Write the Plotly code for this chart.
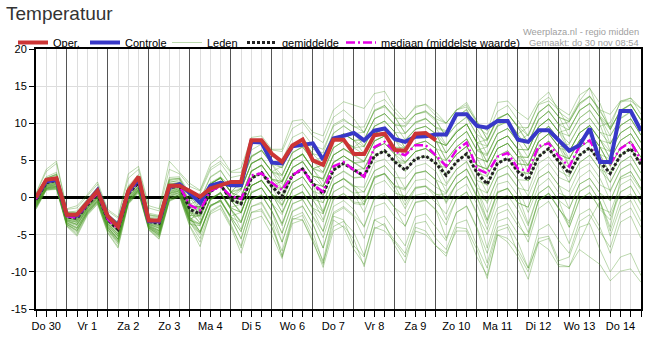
import plotly.graph_objects as go
import pandas as pd

# ---------------- data ----------------
dag_labels = ["Do 30", "Vr 1", "Za 2", "Zo 3", "Ma 4", "Di 5", "Wo 6", "Do 7",
              "Vr 8", "Za 9", "Zo 10", "Ma 11", "Di 12", "Wo 13", "Do 14"]
y_ticks = [-15, -10, -5, 0, 5, 10, 15, 20]
y_ticklabels = ["-15", "-10", "-5", "0", "5", "10", "15", "20"]

oper = [0.0, 2.4, 2.6, -2.3, -2.3, -0.8, 0.9, -2.5, -3.9, 0.9, 2.8, -3.1, -3.1, 1.6, 1.6, 0.9,
        0.1, 1.2, 1.6, 2.1, 2.1, 7.7, 7.7, 5.9, 4.8, 7.0, 7.8, 5.0, 4.4, 7.8, 7.8, 5.85,
        5.85, 8.4, 8.6, 6.4, 6.3, 8.6, 8.7, 7.7]

controle = [0.0, 2.2, 2.4, -2.3, -2.4, -0.7, 1.0, -2.5, -3.8, 0.8, 2.5, -3.2, -3.2, 1.4, 1.8, 0.6,
            -0.7, 1.6, 2.0, 1.65, 1.65, 7.5, 7.4, 4.7, 4.6, 6.9, 7.05, 7.3, 5.1, 7.95, 8.3, 8.7,
            7.7, 9.0, 9.3, 7.85, 7.5, 8.2, 8.25, 8.5, 8.5, 11.2, 11.2, 9.65, 9.4, 10.3, 10.3, 7.8,
            7.5, 9.05, 9.05, 7.6, 6.3, 7.05, 9.3, 4.8, 4.8, 11.65, 11.65, 9.0]

gemiddelde = [-0.3, 2.0, 2.3, -2.6, -2.8, -1.0, 0.5, -3.0, -4.3, 0.5, 2.0, -3.2, -3.5, 1.3, 1.6, -1.6,
              -2.2, 0.8, 1.7, -0.3, -0.85, 2.6, 3.35, 1.5, 0.2, 3.0, 3.85, 1.9, 0.5, 3.7, 4.6, 3.7,
              2.9, 5.6, 6.3, 4.8, 3.7, 5.2, 5.6, 4.6, 3.0, 4.8, 5.9, 3.35, 1.8, 4.6, 5.3, 3.5,
              2.4, 5.5, 6.6, 4.8, 3.25, 5.7, 6.7, 4.8, 3.25, 5.7, 6.6, 4.4]

mediaan = [-0.2, 2.1, 2.4, -2.5, -2.7, -0.9, 0.6, -2.9, -4.2, 0.6, 2.2, -3.1, -3.3, 1.4, 1.5, -1.0,
           -1.7, 0.9, 1.5, 0.2, -0.2, 3.0, 3.25, 2.0, 1.0, 3.0, 3.9, 1.7, 0.8, 4.2, 4.8, 3.7,
           2.8, 6.8, 7.5, 6.2, 5.7, 7.05, 7.05, 5.7, 4.25, 6.4, 7.4, 3.9, 3.25, 5.5, 6.0, 3.9,
           3.6, 6.9, 7.3, 5.5, 4.15, 6.9, 7.7, 5.1, 4.6, 6.6, 7.5, 5.0]

leden = [
    [0.3, 2.8, 3.4, -1.9, -2.0, -0.4, 1.2, -2.2, -3.4, 1.4, 2.9, -2.3, -2.6, 2.4, 2.6, 0.2,
     -0.8, 2.0, 2.8, 1.5, 1.8, 5.5, 6.3, 4.8, 4.0, 7.0, 8.0, 6.5, 6.0, 9.8, 10.6, 9.5, 9.5, 12.6, 13.2, 11.5,
     10.0, 11.2, 11.5, 10.3, 8.2, 9.8, 10.8, 8.5, 7.6, 10.5, 11.3, 9.6, 8.3, 11.4, 12.6, 10.8, 10.2, 12.5, 13.6, 11.6,
     9.4, 11.6, 12.5, 10.4],
    [-0.1, 2.5, 3.0, -2.2, -2.4, -0.6, 1.0, -2.5, -3.6, 1.1, 2.7, -2.6, -2.8, 2.0, 2.4, -0.5,
     0.6, 3.7, 4.6, 2.7, 3.0, 6.4, 7.2, 5.6, 5.0, 8.1, 8.8, 7.0, 6.5, 9.6, 10.4, 9.6, 8.8, 11.7, 12.2, 10.8,
     8.7, 10.0, 10.6, 9.4, 8.8, 10.9, 11.8, 9.5, 8.5, 11.6, 12.4, 10.4, 8.3, 11.4, 12.5, 10.9, 8.2, 10.7, 11.8, 9.6,
     10.1, 12.8, 13.4, 11.2],
    [0.5, 3.5, 4.6, -1.6, -1.4, 0.2, 1.8, -1.8, -2.8, 2.6, 3.8, -1.4, -1.8, 3.8, 3.2, 1.5,
     0.9, 4.0, 4.9, 3.4, 3.4, 7.1, 7.8, 6.4, 6.2, 9.3, 10.1, 8.3, 7.4, 10.8, 11.8, 10.6, 8.7, 11.8, 12.4, 10.9,
     8.6, 10.1, 10.7, 9.4, 7.1, 9.0, 9.9, 7.4, 6.9, 9.8, 10.4, 8.6, 9.5, 12.6, 13.5, 12.0, 11.1, 13.8, 14.7, 12.7,
     9.1, 11.8, 12.5, 10.5],
    [-0.5, 1.8, 2.1, -2.8, -3.1, -1.2, 0.3, -3.3, -4.6, 0.2, 1.8, -3.5, -3.9, 1.0, 1.4, -2.0,
     -1.4, 1.9, 2.6, 0.8, 2.0, 5.4, 6.4, 4.5, 3.0, 6.1, 6.8, 5.0, 5.4, 8.6, 9.7, 8.6, 8.8, 11.6, 12.4, 10.7,
     10.6, 12.1, 12.6, 11.5, 10.0, 11.8, 12.8, 10.3, 7.8, 10.7, 11.3, 9.4, 7.3, 10.4, 11.7, 9.8, 9.1, 11.8, 12.6, 10.8,
     8.3, 10.6, 11.5, 9.4],
    [-0.8, 1.5, 1.8, -3.2, -3.6, -1.5, 0.0, -3.7, -5.2, -0.2, 1.4, -3.9, -4.5, 0.6, 1.0, -2.6,
     -0.4, 2.7, 3.6, 1.6, 2.1, 5.6, 6.4, 4.5, 4.0, 7.1, 7.8, 5.9, 4.4, 7.7, 8.5, 7.7, 7.8, 10.6, 11.3, 9.8,
     9.5, 11.2, 11.7, 10.5, 8.1, 9.8, 10.9, 8.4, 5.8, 8.6, 9.3, 7.5, 8.5, 11.5, 12.5, 10.8, 10.3, 12.7, 13.6, 11.8,
     11.2, 13.0, 13.4, 12.0],
    [0.0, 2.2, 2.6, -2.4, -2.5, -0.8, 0.7, -2.8, -4.0, 0.8, 2.3, -2.9, -3.2, 1.7, 2.0, -1.0,
     -1.3, 1.8, 2.7, 0.8, 1.2, 4.5, 5.4, 3.5, 3.1, 6.0, 6.8, 4.9, 4.4, 7.7, 8.6, 7.7, 6.8, 9.6, 10.3, 8.8,
     8.6, 10.2, 10.6, 9.5, 9.0, 10.8, 11.9, 9.3, 6.9, 9.6, 10.2, 8.5, 6.4, 9.5, 10.6, 8.8, 7.3, 9.7, 10.7, 8.8,
     8.3, 10.7, 11.6, 9.4],
    [-0.4, 1.9, 2.2, -2.7, -3.0, -1.1, 0.4, -3.1, -4.4, 0.4, 1.9, -3.3, -3.7, 1.2, 1.5, -1.8,
     -2.4, 0.9, 1.9, -0.1, 1.0, 4.6, 5.3, 3.4, 2.9, 6.0, 6.9, 4.9, 3.4, 6.7, 7.6, 6.8, 7.8, 10.6, 11.3, 9.8,
     7.8, 9.2, 9.6, 8.5, 6.0, 7.8, 8.9, 6.3, 5.6, 8.6, 9.3, 7.6, 7.3, 10.5, 11.6, 9.8, 6.2, 8.7, 9.7, 7.8,
     5.2, 7.7, 8.6, 6.4],
    [-1.2, 1.2, 1.4, -3.6, -4.4, -2.0, -0.5, -4.2, -5.8, -0.6, 1.0, -4.1, -5.0, -0.2, 0.5, -3.2,
     -1.4, 1.8, 2.7, 0.7, 1.1, 4.6, 5.3, 3.5, 2.1, 5.0, 5.9, 3.9, 3.3, 6.7, 7.6, 6.7, 5.8, 8.6, 9.3, 7.8,
     7.6, 9.2, 9.6, 8.6, 7.0, 8.8, 9.9, 7.3, 4.7, 7.6, 8.3, 6.5, 4.3, 7.5, 8.6, 6.8, 7.2, 9.7, 10.7, 8.8,
     7.2, 9.7, 10.6, 8.4],
    [0.2, 2.4, 2.8, -2.1, -2.2, -0.5, 1.0, -2.6, -3.8, 1.0, 2.5, -2.7, -3.0, 2.2, 2.1, -0.6,
     -2.3, 0.8, 1.7, -0.3, 0.1, 3.6, 4.3, 2.5, 2.1, 5.0, 5.9, 3.9, 3.5, 6.7, 7.6, 6.7, 6.9, 9.6, 10.3, 8.8,
     6.7, 8.2, 8.6, 7.6, 5.0, 6.8, 7.9, 5.4, 4.8, 7.6, 8.3, 6.5, 6.4, 9.5, 10.6, 8.8, 8.3, 10.7, 11.7, 9.8,
     6.3, 8.7, 9.6, 7.4],
    [-0.6, 1.6, 1.9, -3.0, -3.3, -1.4, 0.1, -3.5, -4.9, 0.0, 1.5, -3.6, -4.1, 0.7, 1.1, -2.4,
     -2.6, 0.6, 1.6, -0.5, -0.2, 3.5, 4.4, 2.4, 1.9, 5.1, 5.8, 3.8, 2.2, 5.7, 6.6, 5.7, 5.8, 8.6, 9.3, 7.7,
     6.6, 8.2, 8.6, 7.5, 7.0, 8.8, 9.9, 7.4, 3.7, 6.6, 7.3, 5.5, 5.4, 8.5, 9.6, 7.8, 5.2, 7.7, 8.7, 6.8,
     4.2, 6.7, 7.6, 5.4],
    [-0.2, 2.1, 2.4, -2.5, -2.7, -0.9, 0.6, -2.9, -4.2, 0.6, 2.1, -3.1, -3.4, 1.5, 1.7, -1.3,
     -1.2, 1.8, 2.6, 0.7, 0.1, 3.6, 4.4, 2.5, 1.2, 4.0, 4.8, 2.9, 2.5, 5.7, 6.6, 5.7, 4.9, 7.6, 8.3, 6.8,
     5.7, 7.2, 7.6, 6.6, 6.0, 7.8, 8.9, 6.4, 5.8, 8.6, 9.3, 7.5, 5.4, 8.5, 9.6, 7.8, 6.2, 8.7, 9.7, 7.8,
     5.2, 7.7, 8.6, 6.4],
    [-0.9, 1.4, 1.6, -3.3, -3.8, -1.7, -0.2, -3.9, -5.5, -0.4, 1.2, -3.8, -4.6, 0.3, 0.9, -2.9,
     -2.3, 0.7, 1.8, -0.4, -0.9, 2.7, 3.4, 1.5, 1.3, 4.1, 4.8, 2.9, 2.6, 5.8, 6.5, 5.6, 4.8, 7.7, 8.3, 6.7,
     6.6, 8.3, 8.6, 7.7, 5.1, 6.8, 7.9, 5.3, 2.9, 5.6, 6.3, 4.6, 4.3, 7.5, 8.6, 6.7, 6.2, 8.7, 9.7, 7.7,
     7.3, 9.7, 10.6, 8.4],
    [0.1, 2.3, 2.7, -2.3, -2.4, -0.7, 0.8, -2.7, -3.9, 0.9, 2.4, -2.8, -3.1, 1.8, 1.9, -0.9,
     -2.1, 0.9, 1.7, -0.2, 0.1, 3.5, 4.4, 2.4, 0.3, 3.1, 3.8, 1.9, 1.5, 4.8, 5.6, 4.6, 4.8, 7.6, 8.3, 6.8,
     4.7, 6.2, 6.6, 5.5, 5.0, 6.8, 7.9, 5.4, 4.8, 7.6, 8.3, 6.4, 3.4, 6.5, 7.6, 5.8, 5.2, 7.7, 8.7, 6.8,
     4.2, 6.7, 7.6, 5.4],
    [-0.3, 2.0, 2.3, -2.6, -2.9, -1.0, 0.5, -3.0, -4.3, 0.5, 2.0, -3.2, -3.6, 1.3, 1.6, -1.7,
     -3.4, -0.2, 0.7, -1.3, -0.9, 2.6, 3.3, 1.6, 1.1, 4.0, 4.9, 2.8, 1.4, 4.7, 5.6, 4.7, 3.8, 6.6, 7.3, 5.8,
     5.7, 7.2, 7.6, 6.6, 4.0, 5.8, 6.9, 4.4, 3.8, 6.6, 7.3, 5.5, 5.4, 8.5, 9.6, 7.8, 4.2, 6.7, 7.7, 5.8,
     3.2, 5.7, 6.6, 4.4],
    [-0.7, 1.7, 2.0, -2.9, -3.2, -1.3, 0.2, -3.4, -4.8, 0.1, 1.6, -3.5, -4.0, 0.9, 1.3, -2.2,
     -2.2, 0.8, 1.7, -0.3, -0.9, 2.6, 3.3, 1.5, 0.2, 3.0, 3.9, 1.9, 1.5, 4.7, 5.6, 4.7, 3.9, 6.6, 7.3, 5.8,
     4.7, 6.2, 6.6, 5.6, 3.0, 4.8, 5.9, 3.4, 2.8, 5.6, 6.3, 4.5, 4.4, 7.5, 8.6, 6.8, 5.2, 7.7, 8.7, 6.8,
     6.2, 8.7, 9.6, 7.4],
    [-1.0, 1.3, 1.5, -3.4, -4.0, -1.8, -0.3, -4.0, -5.6, -0.5, 1.1, -4.0, -4.8, 0.1, 0.7, -3.0,
     -3.5, -0.3, 0.6, -1.4, -2.0, 1.6, 2.3, 0.4, 0.0, 2.9, 3.9, 1.8, 0.3, 3.7, 4.5, 3.7, 3.9, 6.6, 7.3, 5.8,
     3.5, 5.2, 5.6, 4.5, 4.0, 5.8, 6.9, 4.3, 1.6, 4.6, 5.3, 3.4, 3.2, 6.5, 7.6, 5.7, 3.0, 5.7, 6.7, 4.7,
     2.0, 4.7, 5.6, 3.3],
    [0.4, 2.6, 3.2, -2.0, -1.8, -0.2, 1.4, -2.3, -3.3, 1.6, 3.1, -2.1, -2.4, 2.7, 2.8, 0.5,
     -1.8, 0.9, 1.6, -0.4, -1.9, 1.6, 2.4, 0.5, -1.0, 2.0, 2.8, 0.9, 0.3, 3.7, 4.6, 3.6, 2.7, 5.6, 6.3, 4.8,
     4.8, 6.2, 6.6, 5.5, 4.0, 5.8, 6.9, 4.3, 3.9, 6.6, 7.3, 5.5, 2.2, 5.5, 6.6, 4.7, 2.0, 4.7, 5.7, 3.8,
     3.1, 5.7, 6.6, 4.4],
    [-0.4, 1.9, 2.2, -2.7, -3.0, -1.2, 0.3, -3.2, -4.5, 0.3, 1.8, -3.4, -3.8, 1.1, 1.4, -2.0,
     -3.4, -0.2, 0.7, -1.4, -2.0, 1.6, 2.3, 0.5, -2.0, 1.0, 1.8, -0.2, -0.7, 2.7, 3.6, 2.7, 2.8, 5.6, 6.3, 4.8,
     3.6, 5.2, 5.6, 4.6, 1.9, 3.8, 4.9, 2.3, 1.7, 4.6, 5.3, 3.5, 3.3, 6.5, 7.6, 5.8, 5.2, 7.7, 8.7, 6.8,
     4.3, 6.7, 7.6, 5.4],
    [-1.4, 1.1, 1.2, -3.8, -4.8, -2.2, -0.7, -4.5, -6.3, -0.8, 0.8, -4.3, -5.3, -0.4, 0.2, -3.6,
     -3.8, -0.3, 0.6, -1.6, -3.3, 0.7, 1.3, -0.8, -2.3, 1.1, 1.8, -0.4, -2.0, 1.8, 2.5, 1.5, 1.4, 4.7, 5.2, 3.6,
     1.2, 3.3, 3.6, 2.4, 1.6, 3.8, 4.8, 2.1, -0.8, 2.7, 3.2, 1.3, 0.9, 4.6, 5.5, 3.6, 2.8, 5.8, 6.6, 4.6,
     0.8, 3.8, 4.5, 2.2],
    [-0.6, 1.7, 2.0, -3.0, -3.4, -1.4, 0.1, -3.5, -5.0, 0.0, 1.6, -3.6, -4.2, 0.8, 1.2, -2.5,
     -4.6, -1.2, -0.5, -2.6, -3.4, 0.6, 1.3, -0.8, -3.5, 0.1, 0.8, -1.4, -2.2, 1.8, 2.5, 1.5, -0.6, 2.8, 3.2, 1.6,
     1.2, 3.3, 3.5, 2.4, -0.6, 1.9, 2.8, 0.1, -3.0, 0.8, 1.2, -0.7, -1.3, 2.6, 3.5, 1.6, 0.8, 3.8, 4.6, 2.6,
     -0.4, 2.8, 3.5, 1.2],
    [-1.1, 1.3, 1.5, -3.5, -4.2, -1.9, -0.4, -4.1, -5.7, -0.5, 1.0, -4.0, -4.9, 0.0, 0.6, -3.1,
     -3.6, 0.0, 0.5, -1.6, -4.3, -0.2, 0.3, -1.8, -4.8, -0.8, -0.3, -2.5, -4.5, -0.1, 0.5, -0.6, -0.8, 2.8, 3.2, 1.6,
     -1.0, 1.4, 1.5, 0.4, 0.5, 2.9, 3.8, 1.2, -2.0, 1.8, 2.2, 0.3, -3.5, 0.6, 1.5, -0.4, -1.5, 1.8, 2.6, 0.6,
     -2.5, 0.8, 1.5, -0.8],
    [-0.8, 1.5, 1.7, -3.1, -3.6, -1.6, -0.1, -3.8, -5.3, -0.3, 1.3, -3.8, -4.5, 0.5, 0.9, -2.8,
     -4.6, -1.0, -0.5, -2.6, -4.6, -0.3, 0.4, -1.8, -4.8, -0.9, -0.2, -2.6, -5.4, -1.2, -0.4, -1.6, -4.0, -0.2, 0.3, -1.4,
     -2.5, 0.3, 0.6, -0.7, -2.2, 0.9, 1.8, -0.9, -4.3, -0.2, 0.3, -1.7, -4.7, -0.4, 0.6, -1.4, -4.0, -0.2, 0.6, -1.4,
     -2.0, 1.7, 2.5, 0.2],
    [-1.3, 1.1, 1.3, -3.7, -4.6, -2.1, -0.6, -4.4, -6.1, -0.7, 0.9, -4.2, -5.2, -0.3, 0.4, -3.4,
     -5.0, -1.2, -0.3, -2.8, -5.6, -1.2, -0.6, -3.0, -6.0, -1.8, -1.1, -3.6, -6.8, -2.2, -1.4, -2.6, -5.5, -1.2, -0.7, -2.6,
     -3.8, -0.7, -0.4, -1.7, -5.5, -2.0, -1.1, -4.0, -7.5, -3.2, -2.7, -4.9, -5.0, -0.4, 0.6, -1.6, -3.2, 0.8, 1.7, -0.6,
     -5.2, -1.2, -0.4, -3.2],
    [-1.6, 1.0, 1.1, -3.9, -5.2, -2.4, -0.9, -4.8, -6.8, -0.9, 0.6, -4.4, -5.6, -0.5, 0.1, -3.9,
     -6.6, -2.0, -1.1, -3.8, -6.5, -2.0, -1.5, -4.0, -7.2, -2.6, -2.0, -4.6, -8.8, -3.9, -3.2, -4.7, -7.8, -3.0, -2.5, -4.6,
     -6.5, -2.6, -2.2, -4.0, -5.8, -2.0, -1.2, -4.2, -8.8, -4.0, -3.6, -6.0, -9.5, -4.4, -3.6, -5.8, -7.5, -3.2, -2.3, -4.6,
     -6.7, -2.2, -1.4, -4.0],
    [-1.0, 1.4, 1.6, -3.4, -4.1, -1.8, -0.3, -4.0, -5.6, -0.5, 1.1, -3.9, -4.8, 0.2, 0.7, -3.0,
     -4.8, -1.0, -0.5, -2.8, -5.5, -1.2, -0.8, -3.2, -8.0, -3.5, -3.0, -5.8, -9.4, -4.5, -3.8, -5.6, -9.3, -4.2, -3.5, -6.5,
     -8.8, -4.0, -4.5, -6.5, -7.9, -4.0, -4.2, -7.0, -10.9, -5.0, -6.0, -8.0, -11.0, -6.0, -5.5, -9.0, -9.3, -7.0, -8.0, -9.0,
     -11.2, -9.9, -9.6, -11.4],
    [-1.5, 1.0, 1.2, -3.8, -5.0, -2.3, -0.8, -4.7, -6.6, -0.8, 0.7, -4.3, -5.5, -0.4, 0.2, -3.8,
     -6.0, -2.2, -1.5, -4.0, -7.5, -3.0, -2.5, -5.0, -8.2, -3.0, -2.4, -5.5, -8.5, -2.5, -3.0, -6.5, -8.0, -3.0, -3.8, -5.8,
     -7.5, -3.5, -3.2, -5.5, -7.0, -3.5, -3.0, -6.5, -9.5, -4.5, -4.0, -7.5, -10.0, -5.5, -5.2, -8.5, -8.0, -4.0, -3.5, -7.0,
     -10.0, -8.0, -7.5, -10.5],
    [-1.2, 1.2, 1.4, -3.6, -4.5, -2.0, -0.5, -4.3, -6.0, -0.6, 0.9, -4.1, -5.1, -0.2, 0.4, -3.3,
     -5.5, -1.8, -1.0, -3.5, -6.8, -2.0, -1.8, -4.0, -7.8, -2.8, -3.0, -6.0, -9.0, -3.0, -4.0, -7.0, -9.0, -4.0, -4.5, -6.0,
     -8.0, -4.5, -5.0, -6.5, -7.5, -4.5, -4.5, -8.0, -10.5, -5.0, -5.5, -7.0, -9.5, -6.0, -7.0, -9.3, -9.3, -6.0, -3.0, -0.5,
     -4.0, 2.5, 3.0, 1.0],
    [0.6, 3.8, 4.9, -1.5, -1.1, 0.4, 2.1, -1.6, -2.6, 3.2, 4.2, -1.1, -1.5, 4.9, 3.4, 1.9,
     1.0, 4.5, 5.6, 3.5, 4.0, 8.1, 8.3, 6.5, 6.5, 10.3, 10.5, 8.8, 8.3, 11.8, 12.9, 12.5, 12.0, 14.0, 14.3, 12.0,
     10.5, 12.3, 12.5, 11.0, 10.0, 11.8, 12.5, 10.0, 9.0, 12.8, 13.0, 11.5, 10.5, 13.0, 14.2, 11.5, 10.5, 13.0, 14.8, 11.0,
     9.5, 13.0, 13.0, 12.0],
    [0.1, 2.3, 2.6, -2.3, -2.3, -0.6, 0.9, -2.7, -3.9, 0.9, 2.4, -2.8, -3.1, 1.9, 2.0, -0.8,
     -3.0, 0.7, 1.6, -0.3, -0.8, 2.6, 3.4, 1.6, 2.2, 5.0, 5.8, 3.9, 4.4, 7.7, 8.6, 7.7, 7.8, 10.6, 11.3, 9.8,
     9.7, 11.2, 11.6, 10.6, 10.0, 11.8, 12.2, 10.3, 7.8, 10.6, 11.3, 9.5, 9.4, 12.5, 13.0, 11.8, 9.3, 11.7, 12.7, 10.8,
     9.2, 11.7, 12.6, 10.4],
    [0.2, 2.6, 3.1, -2.1, -2.1, -0.4, 1.1, -2.4, -3.5, 1.3, 2.8, -2.4, -2.7, 2.3, 2.5, 0.0,
     -2.0, 1.0, 1.9, 0.2, 1.2, 4.6, 5.3, 3.5, 4.2, 7.0, 7.9, 5.9, 5.5, 8.7, 9.6, 8.7, 6.9, 9.6, 10.3, 8.8,
     6.7, 8.2, 8.6, 7.6, 7.0, 8.8, 9.9, 7.4, 7.8, 10.6, 11.3, 9.5, 7.4, 10.5, 11.6, 9.8, 10.2, 12.7, 13.7, 11.8,
     9.2, 11.7, 12.6, 10.4],
    [-0.9, 1.5, 1.7, -3.2, -3.7, -1.6, -0.1, -3.7, -5.2, -0.3, 1.3, -3.7, -4.4, 0.6, 1.0, -2.7,
     -3.6, -0.4, 0.6, -1.5, -3.2, 0.8, 1.3, -0.7, -3.5, 0.1, 0.7, -1.4, -3.3, 0.8, 1.5, 0.5, -2.0, 1.7, 2.3, 0.6,
     0.2, 2.3, 2.5, 1.4, 0.6, 2.9, 3.8, 1.2, -3.1, 0.7, 1.2, -0.7, -1.3, 2.6, 3.5, 1.6, -1.5, 1.8, 2.6, 0.6,
     -0.4, 2.7, 3.5, 1.2],
    [-1.3, 1.2, 1.3, -3.6, -4.4, -2.1, -0.6, -4.3, -5.9, -0.7, 0.9, -4.1, -5.0, -0.2, 0.4, -3.3,
     -4.8, -1.1, -0.3, -2.6, -4.6, -0.3, 0.3, -1.9, -6.0, -1.9, -1.2, -3.5, -6.8, -2.0, -1.2, -2.4, -3.8, 0.0, 0.6, -1.4,
     -3.9, -0.6, -0.3, -1.6, -3.7, -0.1, 0.7, -2.0, -6.8, -2.2, -1.6, -3.8, -5.3, -0.4, 0.5, -1.5, -3.5, 0.8, 1.6, -0.5,
     -4.5, -0.3, 0.5, -2.0],
    [-0.5, 1.8, 2.1, -2.8, -3.1, -1.2, 0.3, -3.2, -4.6, 0.3, 1.8, -3.4, -3.8, 1.1, 1.4, -2.0,
     -2.5, 0.7, 1.6, -0.4, -2.1, 1.6, 2.3, 0.4, -1.2, 2.0, 2.8, 0.8, -1.8, 1.7, 2.6, 1.6, 0.7, 3.6, 4.3, 2.7,
     2.6, 4.2, 4.6, 3.5, 0.8, 2.8, 3.9, 1.3, 0.6, 3.6, 4.3, 2.4, 0.2, 3.5, 4.6, 2.7, 2.1, 4.7, 5.7, 3.7,
     2.1, 4.7, 5.6, 3.3],
    [0.0, 2.2, 2.5, -2.4, -2.6, -0.8, 0.7, -2.8, -4.0, 0.7, 2.2, -3.0, -3.3, 1.6, 1.8, -1.2,
     -1.3, 1.8, 2.6, 0.8, -0.9, 2.6, 3.3, 1.4, -1.0, 2.0, 2.8, 0.9, -0.7, 2.7, 3.5, 2.6, 2.8, 5.6, 6.3, 4.7,
     4.6, 6.2, 6.6, 5.6, 2.9, 4.8, 5.9, 3.3, 0.6, 3.6, 4.3, 2.4, 2.3, 5.5, 6.6, 4.7, 4.2, 6.7, 7.7, 5.8,
     3.2, 5.7, 6.6, 4.4],
    [-1.1, 1.3, 1.5, -3.4, -4.1, -1.9, -0.4, -4.0, -5.6, -0.5, 1.1, -3.9, -4.7, 0.3, 0.7, -3.0,
     -3.8, -0.2, 0.7, -1.6, -3.4, 0.6, 1.3, -0.8, -3.8, 0.1, 0.8, -1.6, -4.6, -0.3, 0.6, -0.8, -1.0, 2.6, 3.3, 1.5,
     1.0, 3.2, 3.6, 2.3, -0.8, 1.8, 2.9, 0.0, -3.5, 0.6, 1.3, -0.8, -3.8, 0.5, 1.6, -0.5, -4.0, -0.3, 0.7, -1.6,
     -3.0, 0.7, 1.6, -1.0],
    [-0.1, 2.3, 2.7, -2.3, -2.4, -0.7, 0.8, -2.7, -3.9, 0.9, 2.4, -2.8, -3.1, 1.8, 2.0, -0.9,
     -0.3, 2.8, 3.7, 1.6, 1.2, 4.6, 5.3, 3.5, 1.2, 4.0, 4.9, 2.9, 2.5, 5.7, 6.6, 5.7, 5.9, 8.6, 9.3, 7.8,
     5.6, 7.2, 7.6, 6.6, 4.0, 5.8, 6.9, 4.4, 3.8, 6.6, 7.3, 5.5, 4.4, 7.5, 8.6, 6.8, 4.2, 6.7, 7.7, 5.8,
     5.2, 7.7, 8.6, 6.4],
    [-0.8, 1.6, 1.8, -3.1, -3.6, -1.5, 0.0, -3.7, -5.1, -0.2, 1.4, -3.7, -4.4, 0.5, 0.9, -2.7,
     -4.6, -1.2, -0.3, -2.5, -2.0, 1.6, 2.3, 0.5, -2.0, 1.0, 1.8, -0.2, -3.0, 0.7, 1.6, 0.6, 0.8, 3.6, 4.3, 2.7,
     -0.5, 1.3, 1.6, 0.5, -0.2, 1.8, 2.9, 0.3, -0.5, 2.6, 3.3, 1.4, -2.0, 1.5, 2.6, 0.6, 0.0, 2.7, 3.7, 1.7,
     1.0, 3.7, 4.6, 2.3],
    [0.3, 2.6, 3.1, -2.0, -2.0, -0.3, 1.2, -2.3, -3.4, 1.4, 2.9, -2.3, -2.5, 2.5, 2.6, 0.1,
     -1.2, 1.8, 2.7, 0.7, 2.1, 5.6, 6.3, 4.5, 2.2, 5.0, 5.9, 3.9, 4.4, 7.7, 8.6, 7.7, 5.9, 8.6, 9.3, 7.8,
     7.7, 9.2, 9.6, 8.6, 6.0, 7.8, 8.9, 6.4, 6.8, 9.6, 10.3, 8.5, 6.4, 9.5, 10.6, 8.8, 9.2, 11.7, 12.7, 10.8,
     7.2, 9.7, 10.6, 8.4],
    [-0.6, 1.7, 1.9, -3.0, -3.3, -1.4, 0.1, -3.5, -4.9, 0.0, 1.5, -3.6, -4.1, 0.8, 1.2, -2.4,
     -2.4, 0.8, 1.7, -0.3, -2.1, 1.6, 2.3, 0.4, -0.4, 3.0, 3.8, 1.8, -2.2, 1.7, 2.6, 1.3, -1.0, 2.6, 3.2, 1.0,
     -1.5, 1.2, 1.5, 0.0, -3.0, -0.2, 0.8, -2.3, -5.0, -1.4, -0.8, -3.2, -6.0, -1.5, -0.5, -3.0, -6.2, -2.3, -1.5, -4.0,
     -7.5, -3.3, -2.5, -5.5],
    [-0.2, 2.0, 2.4, -2.5, -2.8, -0.9, 0.6, -3.0, -4.3, 0.6, 2.1, -3.1, -3.4, 1.4, 1.7, -1.4,
     -1.2, 1.8, 2.7, 0.7, 0.1, 3.6, 4.3, 2.5, 2.2, 5.0, 5.8, 3.9, 1.5, 4.7, 5.6, 4.7, 4.9, 7.6, 8.3, 6.8,
     6.7, 8.2, 8.6, 7.6, 7.0, 8.8, 9.9, 7.3, 4.8, 7.6, 8.3, 6.5, 6.4, 9.5, 10.6, 8.8, 6.2, 8.7, 9.7, 7.8,
     6.2, 8.7, 9.6, 7.4],
]

# ---------------- axes helpers ----------------
times = pd.date_range("2023-11-30 06:00", periods=len(controle), freq="6h")
noons = pd.date_range("2023-11-30 12:00", periods=len(dag_labels), freq="D")
midnights = pd.date_range("2023-12-01 00:00", periods=len(dag_labels) - 1, freq="D")
x_range = ["2023-11-30 06:00", "2023-12-15 00:00"]

FONT = "Arial, Liberation Sans, sans-serif"

fig = go.Figure()

for k, m in enumerate(leden):
    fig.add_trace(go.Scatter(
        x=times, y=m, mode="lines", name="Leden", legend="legend3",
        showlegend=(k == 0), hoverinfo="skip",
        line=dict(color="rgba(70,150,30,0.36)", width=1)))

fig.add_trace(go.Scatter(
    x=times, y=gemiddelde, mode="lines", name="gemiddelde", legend="legend4",
    line=dict(color="#222222", width=3, dash="3px,2px")))
fig.add_trace(go.Scatter(
    x=times, y=mediaan, mode="lines", name="mediaan (middelste waarde)", legend="legend5",
    line=dict(color="#e600e6", width=2.5, dash="9px,3px,2px,3px")))
fig.add_trace(go.Scatter(
    x=times, y=controle, mode="lines", name="Controle", legend="legend2",
    line=dict(color="#3838c8", width=4)))
fig.add_trace(go.Scatter(
    x=times[:len(oper)], y=oper, mode="lines", name="Oper.", legend="legend",
    line=dict(color="#cc3535", width=4)))
# carrier for the overlay axis that draws the midnight grid
fig.add_trace(go.Scatter(x=[times[0]], y=[None], xaxis="x2", mode="lines",
                         showlegend=False, hoverinfo="skip"))

W, H = 666, 349
ML, MR, MT, MB = 36, 25, 49, 40
pw = W - ML - MR
ph = H - MT - MB


def lx(px):
    return (px - ML) / pw


def ly(py):
    return (H - MB - py) / ph


leg_common = dict(orientation="h", xanchor="left", yanchor="middle",
                  font=dict(family=FONT, size=11, color="black"),
                  bgcolor="rgba(0,0,0,0)", borderwidth=0, itemwidth=30)
leg_y = ly(42.5)

fig.update_layout(
    width=W, height=H,
    margin=dict(l=ML, r=MR, t=MT, b=MB, pad=0),
    paper_bgcolor="white", plot_bgcolor="white",
    font=dict(family=FONT, size=11, color="black"),
    title=dict(text="Temperatuur", x=6 / W, xanchor="left", xref="container",
               y=1 - 13 / H, yanchor="middle", yref="container",
               font=dict(family=FONT, size=19, color="#333333")),
    xaxis=dict(type="date", range=x_range, tickvals=noons, ticktext=dag_labels,
               ticks="outside", ticklen=6, tickcolor="black", tickwidth=1,
               showgrid=True, gridcolor="#dddddd", gridwidth=1,
               minor=dict(dtick=6 * 3600 * 1000, tick0="2023-11-30 00:00",
                          showgrid=True, gridcolor="#dddddd", gridwidth=1,
                          ticks="outside", ticklen=6, tickcolor="black", tickwidth=1),
               showline=True, linecolor="black", linewidth=2, mirror=True,
               zeroline=False, tickfont=dict(family=FONT, size=11, color="black")),
    xaxis2=dict(type="date", range=x_range, overlaying="x", anchor="y",
                tickvals=midnights, showticklabels=False, ticks="",
                showgrid=True, gridcolor="#555555", gridwidth=1,
                showline=False, zeroline=False),
    yaxis=dict(range=[-15, 20], tickvals=y_ticks, ticktext=y_ticklabels,
               ticks="outside", ticklen=5, tickcolor="black", tickwidth=1,
               showgrid=True, gridcolor="#dddddd", gridwidth=1,
               zeroline=True, zerolinecolor="black", zerolinewidth=3,
               showline=True, linecolor="black", linewidth=2, mirror=True,
               tickfont=dict(family=FONT, size=11, color="black")),
    legend=dict(x=lx(13), y=leg_y, **leg_common),
    legend2=dict(x=lx(85), y=leg_y, **leg_common),
    legend3=dict(x=lx(167), y=leg_y, **leg_common),
    legend4=dict(x=lx(242), y=leg_y, **leg_common),
    legend5=dict(x=lx(341), y=leg_y, **leg_common),
    annotations=[
        dict(text="Weerplaza.nl - regio midden", xref="paper", yref="paper",
             x=1, y=ly(32), xanchor="right", yanchor="middle", showarrow=False,
             font=dict(family=FONT, size=9.3, color="#a0a0a0")),
        dict(text="Gemaakt: do 30 nov 08:54", xref="paper", yref="paper",
             x=1, y=ly(42.5), xanchor="right", yanchor="middle", showarrow=False,
             font=dict(family=FONT, size=9.3, color="#a0a0a0")),
    ],
    showlegend=True,
)

fig.write_html("out.html")
